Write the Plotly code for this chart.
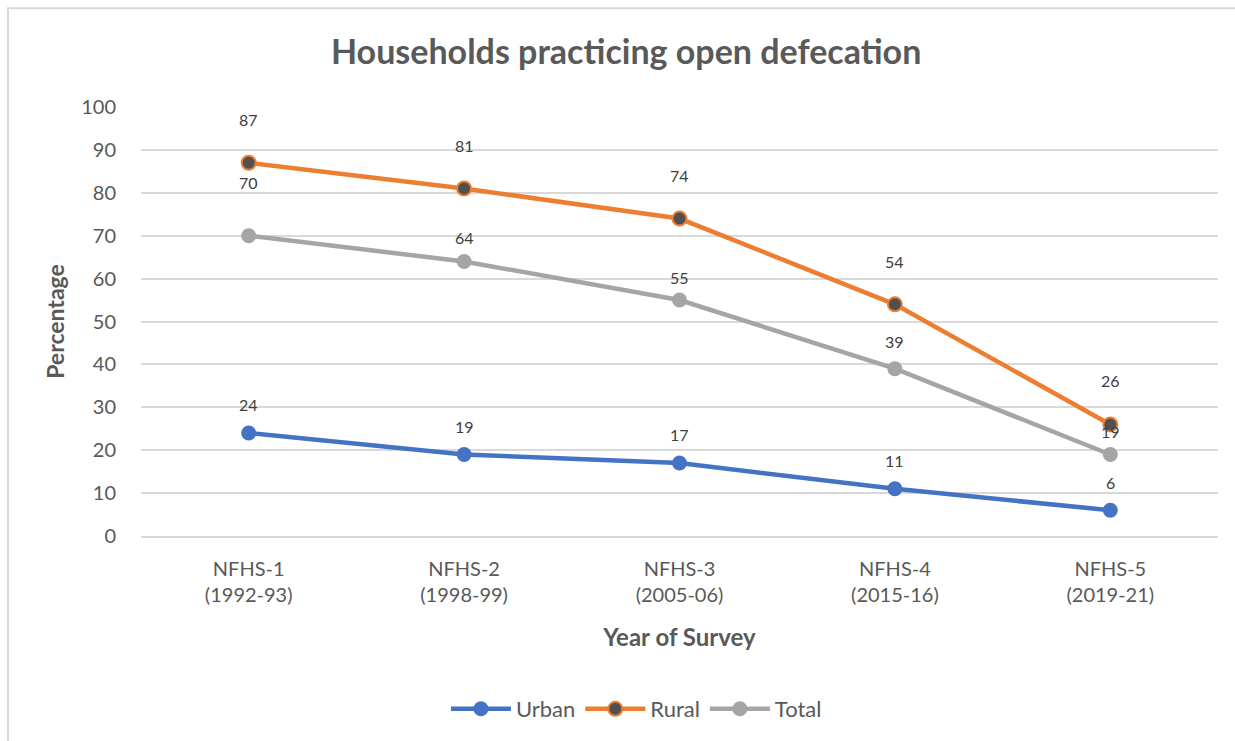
import plotly.graph_objects as go

surveys = ['NFHS-1<br>(1992-93)', 'NFHS-2<br>(1998-99)', 'NFHS-3<br>(2005-06)',
           'NFHS-4<br>(2015-16)', 'NFHS-5<br>(2019-21)']
urban = [24, 19, 17, 11, 6]
rural = [87, 81, 74, 54, 26]
total = [70, 64, 55, 39, 19]

# label offsets above the points (px), as placed in the original chart
urban_shift = [29, 28, 29, 28, 28]
rural_shift = [43, 43, 43, 43, 44]
total_shift = [53, 24, 23, 27, 23]

FONT = 'Lato'
GREY = '#595959'

fig = go.Figure()
fig.add_trace(go.Scatter(
    name='Urban', x=surveys, y=urban, mode='lines+markers',
    line=dict(color='#4472C4', width=4.5),
    marker=dict(color='#4472C4', size=15),
))
fig.add_trace(go.Scatter(
    name='Rural', x=surveys, y=rural, mode='lines+markers',
    line=dict(color='#ED7D31', width=4.5),
    marker=dict(color='#505050', size=14, line=dict(color='#ED7D31', width=2)),
))
fig.add_trace(go.Scatter(
    name='Total', x=surveys, y=total, mode='lines+markers',
    line=dict(color='#A5A5A5', width=4.5),
    marker=dict(color='#A5A5A5', size=15),
))

for vals, shifts in [(urban, urban_shift), (rural, rural_shift), (total, total_shift)]:
    for cat, v, s in zip(surveys, vals, shifts):
        fig.add_annotation(x=cat, y=v, text=str(v), showarrow=False, yshift=s,
                           font=dict(family=FONT, size=16, color='#404040'))

# chart area border (right and bottom edges run off the picture)
fig.add_shape(type='rect', xref='paper', yref='paper',
              x0=-133 / 1077, x1=1120 / 1077, y0=-240 / 430, y1=1 + 99 / 430,
              line=dict(color='#D9D9D9', width=2), fillcolor='rgba(0,0,0,0)')

fig.update_layout(
    width=1235, height=741,
    margin=dict(l=141, r=17, t=107, b=204),
    paper_bgcolor='white', plot_bgcolor='white',
    font=dict(family=FONT, color=GREY),
    title=dict(text='<b>Households practicing open defecation</b>', x=0.507, xanchor='center',
               y=1 - 52 / 741, yanchor='middle', font=dict(family=FONT, size=34, color=GREY)),
    xaxis=dict(
        range=[-0.5, 4.5], showgrid=False, showline=True, linecolor='#D9D9D9', linewidth=1.5,
        tickfont=dict(size=20, color=GREY), ticks='', ticklabelstandoff=14,
        title=dict(text='<b>Year of Survey</b>', font=dict(size=24, color=GREY), standoff=24),
    ),
    yaxis=dict(
        range=[0, 100], dtick=10, showgrid=True, gridcolor='#D9D9D9', gridwidth=1.5,
        zeroline=False, tickfont=dict(size=20, color=GREY), ticks='', ticklabelstandoff=24,
        title=dict(text='<b>Percentage</b>', font=dict(size=23, color=GREY), standoff=10),
    ),
    legend=dict(orientation='h', x=0.46, xanchor='center', y=-0.40, yanchor='middle',
                font=dict(family=FONT, size=22, color=GREY), itemwidth=60),
    showlegend=True,
)

# drop the default page margin so the figure fills the window exactly
fig.write_html('out.html', config={'displayModeBar': False},
               post_script="document.body.style.margin='0';")
